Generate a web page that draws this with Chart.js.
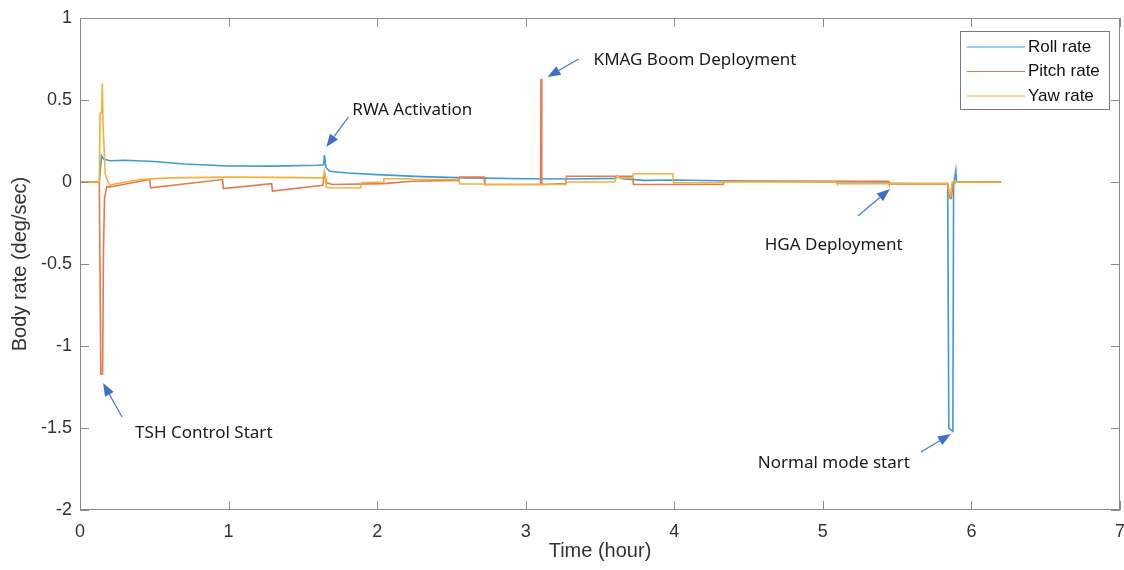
<!DOCTYPE html>
<html>
<head>
<meta charset="utf-8">
<script src="https://cdn.jsdelivr.net/npm/chart.js@4.4.1/dist/chart.umd.min.js"></script>
<style>
  body { margin: 0; background: #fff; }
  canvas { display: block; }
</style>
</head>
<body>
<canvas id="chart" width="1124" height="570"></canvas>
<script>
// series data (time in hours, rate in deg/sec)
const rollTime = [0, 0.13, 0.145, 0.16, 0.2, 0.3, 0.5, 0.7, 1.0, 1.3, 1.6, 1.64, 1.645, 1.655, 1.68, 1.8, 2.0, 2.3, 2.6, 3.0, 3.3, 3.6, 3.62, 3.65, 3.8, 4.0, 4.3, 4.6, 5.0, 5.44, 5.46, 5.84, 5.848, 5.875, 5.88, 5.895, 5.9, 6.2];
const rollRate = [0, 0, 0.16, 0.14, 0.13, 0.133, 0.125, 0.11, 0.098, 0.097, 0.102, 0.105, 0.165, 0.09, 0.065, 0.055, 0.045, 0.033, 0.025, 0.02, 0.018, 0.022, 0.035, 0.02, 0.01, 0.012, 0.008, 0.005, 0.002, 0, -0.01, -0.012, -1.5, -1.52, -0.02, 0.07, 0, 0];

const pitchTime = [0, 0.13, 0.14, 0.152, 0.158, 0.165, 0.18, 0.2, 0.47, 0.475, 0.96, 0.965, 1.29, 1.295, 1.635, 1.645, 1.66, 1.7, 2.04, 2.24, 2.55, 2.555, 2.72, 2.725, 3.1, 3.103, 3.108, 3.27, 3.275, 3.72, 3.725, 4.33, 4.335, 5.44, 5.445, 5.84, 5.855, 5.865, 5.875, 5.9, 6.2];
const pitchRate = [0, 0, -1.17, -1.17, -0.42, -0.1, -0.03, -0.03, 0.015, -0.035, 0.015, -0.04, -0.01, -0.055, -0.02, 0.06, -0.005, -0.015, -0.01, 0.005, 0.01, 0.03, 0.03, -0.015, -0.015, 0.63, -0.015, -0.01, 0.035, 0.035, -0.015, -0.015, 0.005, 0.005, -0.01, -0.01, -0.1, -0.1, -0.01, 0, 0];

const yawTime = [0, 0.13, 0.135, 0.145, 0.15, 0.155, 0.17, 0.18, 0.2, 0.22, 0.4, 0.6, 1.0, 1.3, 1.635, 1.645, 1.66, 1.89, 1.895, 2.04, 2.045, 2.24, 2.245, 2.55, 2.555, 2.72, 2.725, 3.27, 3.275, 3.6, 3.615, 3.63, 3.72, 3.725, 3.99, 3.995, 4.33, 4.335, 5.09, 5.095, 5.84, 5.85, 5.86, 5.87, 6.2];
const yawRate = [0, 0, 0.42, 0.42, 0.6, 0.35, 0.05, 0.02, -0.02, -0.015, 0.015, 0.025, 0.03, 0.028, 0.025, 0.055, -0.035, -0.037, -0.005, 0, 0.02, 0.02, 0.015, 0.015, -0.012, -0.012, -0.015, -0.015, 0, 0, 0.04, 0.025, 0.025, 0.05, 0.05, -0.005, -0.005, 0, 0, -0.01, -0.01, -0.06, -0.08, 0, 0];

const seriesNames = ['Roll rate', 'Pitch rate', 'Yaw rate'];
const seriesColors = ['#3f9bd6', '#e27a52', '#f0b23a'];

const xTicks = [0, 1, 2, 3, 4, 5, 6, 7];
const yTicks = [1, 0.5, 0, -0.5, -1, -1.5, -2];

// annotations: text anchor and arrow (tail -> tip) in data units
const notes = [
  { text: 'KMAG Boom Deployment', at: [3.457, 0.744], from: [3.356, 0.75], to: [3.147, 0.64] },
  { text: 'RWA Activation', at: [1.833, 0.439], from: [1.806, 0.396], to: [1.658, 0.213] },
  { text: 'TSH Control Start', at: [0.371, -1.53], from: [0.283, -1.433], to: [0.155, -1.226] },
  { text: 'HGA Deployment', at: [4.609, -0.384], from: [5.236, -0.207], to: [5.451, -0.043] },
  { text: 'Normal mode start', at: [4.562, -1.713], from: [5.66, -1.646], to: [5.862, -1.537] }
];

const toPoints = (ts, vs) => ts.map((t, i) => ({ x: t, y: vs[i] }));

const frameColor = '#8a8a8a';

// box, inward ticks, legend and annotations, MATLAB style
const decorations = {
  id: 'decorations',
  afterDatasetsDraw(chart) {
    const ctx = chart.ctx;
    const a = chart.chartArea;
    const xs = chart.scales.x, ys = chart.scales.y;
    ctx.save();
    ctx.strokeStyle = frameColor;
    ctx.lineWidth = 1;
    ctx.strokeRect(a.left + 0.5, a.top + 0.5, a.right - a.left - 1, a.bottom - a.top - 1);
    ctx.beginPath();
    xTicks.forEach(v => {
      const px = Math.round(xs.getPixelForValue(v)) + 0.5;
      ctx.moveTo(px, a.bottom); ctx.lineTo(px, a.bottom - 9);
      ctx.moveTo(px, a.top); ctx.lineTo(px, a.top + 9);
    });
    yTicks.forEach(v => {
      const py = Math.round(ys.getPixelForValue(v)) + 0.5;
      ctx.moveTo(a.left, py); ctx.lineTo(a.left + 9, py);
      ctx.moveTo(a.right, py); ctx.lineTo(a.right - 9, py);
    });
    ctx.stroke();
    ctx.restore();
  },
  afterDraw(chart) {
    const ctx = chart.ctx;
    const xs = chart.scales.x, ys = chart.scales.y;
    ctx.save();

    // legend
    const lx = 960, ly = 31, lw = 149, lh = 78;
    ctx.fillStyle = '#fff';
    ctx.fillRect(lx, ly, lw, lh);
    ctx.strokeStyle = '#7a7a7a';
    ctx.lineWidth = 1;
    ctx.strokeRect(lx + 0.5, ly + 0.5, lw, lh);
    ctx.font = '17px "Liberation Sans", Arial, sans-serif';
    ctx.textBaseline = 'middle';
    seriesNames.forEach((name, i) => {
      const y = ly + 16 + i * 24.5;
      ctx.strokeStyle = seriesColors[i];
      ctx.lineWidth = 1.2;
      ctx.beginPath();
      ctx.moveTo(lx + 7, y); ctx.lineTo(lx + 65, y);
      ctx.stroke();
      ctx.fillStyle = '#111';
      ctx.fillText(name, lx + 68, y);
    });

    // annotations
    ctx.font = '17px "Noto Sans", "Open Sans", sans-serif';
    notes.forEach(n => {
      ctx.fillStyle = '#1a1a1a';
      ctx.textBaseline = 'middle';
      ctx.fillText(n.text, xs.getPixelForValue(n.at[0]), ys.getPixelForValue(n.at[1]));
      const x0 = xs.getPixelForValue(n.from[0]), y0 = ys.getPixelForValue(n.from[1]);
      const x1 = xs.getPixelForValue(n.to[0]), y1 = ys.getPixelForValue(n.to[1]);
      const ang = Math.atan2(y1 - y0, x1 - x0);
      const hl = 13, hw = 5;
      const bx = x1 - hl * Math.cos(ang), by = y1 - hl * Math.sin(ang);
      ctx.strokeStyle = '#4a78c8';
      ctx.lineWidth = 1.2;
      ctx.beginPath();
      ctx.moveTo(x0, y0); ctx.lineTo(bx, by);
      ctx.stroke();
      ctx.fillStyle = '#3f6fc6';
      ctx.beginPath();
      ctx.moveTo(x1, y1);
      ctx.lineTo(bx + hw * Math.sin(ang), by - hw * Math.cos(ang));
      ctx.lineTo(bx - hw * Math.sin(ang), by + hw * Math.cos(ang));
      ctx.closePath();
      ctx.fill();
    });
    ctx.restore();
  }
};

const tickFont = { family: '"Liberation Sans", Arial, sans-serif', size: 18 };
const titleFont = { family: '"Liberation Sans", Arial, sans-serif', size: 20 };

new Chart(document.getElementById('chart'), {
  type: 'line',
  data: {
    datasets: [
      { label: seriesNames[0], data: toPoints(rollTime, rollRate) },
      { label: seriesNames[1], data: toPoints(pitchTime, pitchRate) },
      { label: seriesNames[2], data: toPoints(yawTime, yawRate) }
    ].map((d, i) => ({
      ...d,
      borderColor: seriesColors[i],
      borderWidth: 1.6,
      pointRadius: 0,
      tension: 0,
      fill: false
    })).reverse()
  },
  options: {
    responsive: false,
    animation: false,
    events: [],
    layout: { padding: { top: 18, right: 4, left: 0, bottom: 0 } },
    plugins: {
      legend: { display: false },
      tooltip: { enabled: false }
    },
    scales: {
      x: {
        type: 'linear',
        min: 0,
        max: 7,
        afterFit: s => { s.height = 60; s.paddingLeft = 0; s.paddingRight = 0; },
        afterBuildTicks: s => { s.ticks = xTicks.map(v => ({ value: v })); },
        grid: { display: false, drawTicks: false },
        border: { display: false },
        ticks: { font: tickFont, color: '#333', padding: 11, maxRotation: 0, callback: v => String(v) },
        title: { display: true, text: 'Time (hour)', font: titleFont, color: '#333', padding: { top: 0, bottom: 7 } }
      },
      y: {
        type: 'linear',
        min: -2,
        max: 1,
        afterFit: s => { s.width = 80; s.paddingTop = 0; s.paddingBottom = 0; },
        afterBuildTicks: s => { s.ticks = yTicks.map(v => ({ value: v })); },
        grid: { display: false, drawTicks: false },
        border: { display: false },
        ticks: { font: tickFont, color: '#333', padding: 8, callback: v => String(v) },
        title: { display: true, text: 'Body rate (deg/sec)', font: titleFont, color: '#333', padding: { top: 8, bottom: 0 } }
      }
    }
  },
  plugins: [decorations]
});
</script>
</body>
</html>
